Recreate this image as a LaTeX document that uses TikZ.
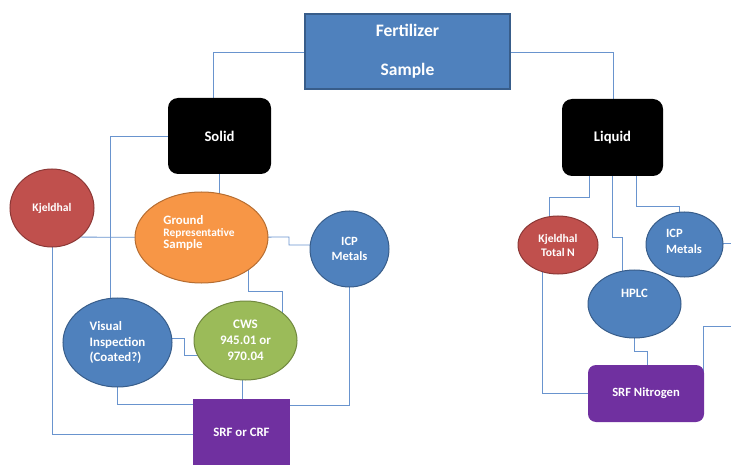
\documentclass[tikz,border=0pt]{standalone}
\usepackage{fontspec}
\setmainfont{Carlito}
\usetikzlibrary{shapes.geometric,backgrounds}
\definecolor{cblue}{HTML}{4F81BD}
\definecolor{cbluedark}{HTML}{385D8A}
\definecolor{cred}{HTML}{C0504D}
\definecolor{creddark}{HTML}{8C3836}
\definecolor{corange}{HTML}{F79646}
\definecolor{corangedark}{HTML}{B66D31}
\definecolor{cgreen}{HTML}{9BBB59}
\definecolor{cgreendark}{HTML}{71893F}
\definecolor{cpurple}{HTML}{7030A0}
\definecolor{cline}{RGB}{105,148,206}
\begin{document}
\begin{tikzpicture}[x=1pt,y=-1pt,
  conn/.style={draw=cline,line width=0.8pt},
  txt/.style={text=white,font=\bfseries},
  ell/.style={ellipse,inner sep=0pt,line width=1pt,txt},
  blueell/.style={ell,fill=cblue,draw=cbluedark},
  redell/.style={ell,fill=cred,draw=creddark},
  orangeell/.style={ell,fill=corange,draw=corangedark},
  greenell/.style={ell,fill=cgreen,draw=cgreendark},
  blackbox/.style={rectangle,rounded corners=10pt,fill=black,txt,inner sep=0pt},
  purplebox/.style={rectangle,fill=cpurple,txt,inner sep=0pt},
  fs/.style={font=\fontsize{#1}{15.8}\selectfont\bfseries}
]
\useasboundingbox (0,0) rectangle (731,465);

\node[rectangle,fill=cblue,draw=cbluedark,line width=1.2pt,txt,align=center,
  minimum width=205pt,minimum height=75pt,fs=17.5] (fert) at (407.5,51.5)
  {Fertilizer\\[23pt]Sample};

\node[blackbox,minimum width=103pt,minimum height=76pt,fs=14.7] (solid) at (219.5,136) {Solid};
\node[blackbox,minimum width=101pt,minimum height=77pt,fs=14.7] (liquid) at (612.5,137.5) {Liquid};

\node[redell,minimum width=84pt,minimum height=78pt,fs=11.6] (kj) at (52,208) {Kjeldhal};
\node[orangeell,minimum width=133pt,minimum height=91pt] (ground) at (201.5,237.5) {};
\node[txt,align=left,inner sep=0pt] (groundt) at (199,233.5)
  {\fontsize{12.8}{15.5}\selectfont Ground\\\fontsize{11.4}{15.5}\selectfont Representative\\\fontsize{12.8}{15.5}\selectfont Sample};
\node[blueell,minimum width=79pt,minimum height=76pt,align=center,fs=12.6] (icp) at (349.5,249) {ICP\\Metals};
\node[blueell,minimum width=109pt,minimum height=89pt,align=left,fs=12.9] (vis) at (117.5,342.5) {Visual\\Inspection\\(Coated?)};
\node[greenell,minimum width=103pt,minimum height=79pt,align=center,fs=13] (cws) at (245.5,340.5) {CWS\\945.01 or\\970.04};
\node[purplebox,minimum width=97pt,minimum height=66pt,fs=12.8] (srf) at (241.5,432) {SRF or CRF};

\node[redell,minimum width=80pt,minimum height=58pt,align=center,font=\fontsize{11.6}{14}\selectfont\bfseries] (kjn) at (558,245) {Kjeldhal\\Total N};
\node[blueell,minimum width=77pt,minimum height=65pt] (icp2) at (684.5,244.5) {};
\node[txt,align=left,inner sep=0pt,fs=12.6] (icp2t) at (684,241.5) {ICP\\Metals};
\node[blueell,minimum width=93pt,minimum height=68pt] (hplc) at (634.5,304) {};
\node[txt,fs=12.8] (hplct) at (634.5,293) {HPLC};
\node[purplebox,rounded corners=8pt,minimum width=116pt,minimum height=57pt,fs=12.6] (srfn) at (646,393.5) {SRF Nitrogen};

\coordinate (edge1) at (731,243);
\coordinate (edge2) at (731,326);

\begin{pgfonlayer}{background}
\draw[conn] (fert.center |- 0,52) -- (213,52) -- (solid.center -| 213,0);
\draw[conn] (fert.center |- 0,52) -- (613,52) -- (liquid.center -| 613,0);
\draw[conn] (solid.center) -- (110,136) -- (vis.center -| 110,0);
\draw[conn] (solid.center -| 219,0) -- (ground.center -| 219,0);
\draw[conn] (kj.center |- 0,237) -- (ground.center);
\draw[conn] (kj.center) |- (srf.center |- 0,434);
\draw[conn] (ground.center) -- (289,237) -- (289,245) -- (icp.center |- 0,245);
\draw[conn] (ground.center -| 248,0) -- (248,291) -- (282,291) -- (cws.center -| 282,0);
\draw[conn] (vis.center |- 0,338) -- (184,338) -- (184,355) -- (cws.center |- 0,355);
\draw[conn] (vis.center) |- (srf.center |- 0,404);
\draw[conn] (cws.center -| 242,0) -- (srf.center -| 242,0);
\draw[conn] (icp.center) |- (srf.center |- 0,405);

\draw[conn] (liquid.center -| 589,0) -- (589,197) -- (549,197) -- (kjn.center -| 549,0);
\draw[conn] (liquid.center) |- (622,237) -- (hplc.center -| 622,0);
\draw[conn] (liquid.center -| 636,0) -- (636,206) -- (679,206) -- (icp2.center -| 679,0);
\draw[conn] (icp2.center |- 0,243) -- (edge1);
\draw[conn] (hplc.center) -- (634.5,351) -- (647,351) -- (srfn.center -| 647,0);
\draw[conn] (edge2) -- (703,326) -- (srfn.center -| 703,0);
\draw[conn] (kjn.center -| 542,0) -- (542,393) -- (srfn.center |- 0,393);
\end{pgfonlayer}
\end{tikzpicture}
\end{document}
